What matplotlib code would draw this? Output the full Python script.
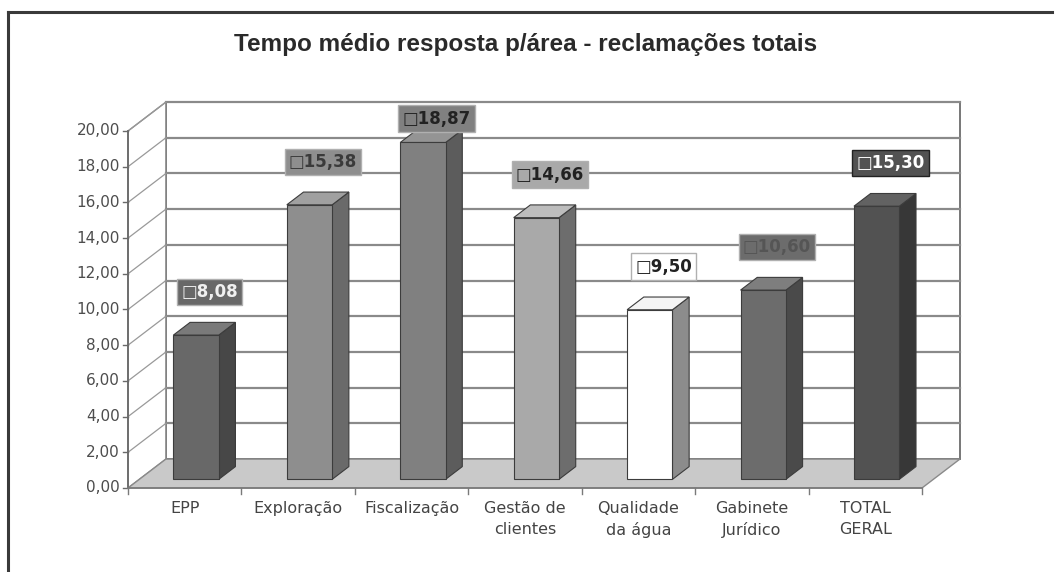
import matplotlib
matplotlib.use("Agg")
import matplotlib.pyplot as plt
from matplotlib.patches import Polygon, Rectangle
from matplotlib.lines import Line2D

# Average response time per area (days), all complaints
areas = ["EPP", "Exploração", "Fiscalização", "Gestão de\nclientes",
         "Qualidade\nda água", "Gabinete\nJurídico", "TOTAL\nGERAL"]
tempos = [8.08, 15.38, 18.87, 14.66, 9.50, 10.60, 15.30]

# shades of grey per bar: front face, side face, top face
face_cols = ["#686868", "#8e8e8e", "#808080", "#a9a9a9", "#ffffff", "#6c6c6c", "#525252"]
side_cols = ["#474747", "#6a6a6a", "#5c5c5c", "#6d6d6d", "#8c8c8c", "#4a4a4a", "#373737"]
top_cols = ["#7a7a7a", "#a0a0a0", "#949494", "#bdbdbd", "#f4f4f4", "#7e7e7e", "#626262"]
text_cols = ["#f0f0f0", "#3a3a3a", "#222222", "#222222", "#222222", "#555555", "#ffffff"]

y_ticks = list(range(0, 21, 2))

n = len(areas)
DX, DY = 0.334, 1.62      # depth of the 3D box (category units, value units)
D0, D1 = 0.30, 0.74       # bar depth span as fraction of the box
W = 0.40                  # bar width

fig = plt.figure(figsize=(10.58, 5.72), dpi=100)
fig.patch.set_facecolor("white")

# outer frame of the chart object (top and left edges)
fig.add_artist(Line2D([8 / 1058, 1052 / 1058], [1 - 12 / 572, 1 - 12 / 572],
                      color="#3a3a3a", lw=2.2, transform=fig.transFigure))
fig.add_artist(Line2D([8 / 1058, 8 / 1058], [1 - 12 / 572, 0.0],
                      color="#3a3a3a", lw=2.2, transform=fig.transFigure))

fig.text(0.497, 1 - 45 / 572, "Tempo médio resposta p/área - reclamações totais",
         ha="center", va="center", fontsize=17.5, fontweight="bold",
         color="#2a2a2a", family="Liberation Sans")

ax = fig.add_axes([128 / 1058, (572 - 488) / 572, (922 - 128) / 1058, (488 - 131) / 572])
ax.set_xlim(0, n)
ax.set_ylim(0, 20)
ax.axis("off")

grid_col = "#8a8a8a"

# back wall and left wall
ax.add_patch(Rectangle((DX, DY), n, 20, facecolor="white", edgecolor="#777777",
                       lw=1.4, clip_on=False, zorder=1))
ax.add_patch(Polygon([(0, 0), (DX, DY), (DX, 20 + DY), (0, 20)], closed=True,
                     facecolor="white", edgecolor="#888888", lw=1.0,
                     clip_on=False, zorder=1))
for t in y_ticks[1:]:
    ax.plot([DX, n + DX], [t + DY, t + DY], color=grid_col, lw=1.6,
            clip_on=False, zorder=2)
    ax.plot([0, DX], [t, t + DY], color="#999999", lw=0.9, clip_on=False, zorder=2)

# floor
ax.add_patch(Polygon([(0, 0), (n, 0), (n + DX, DY), (DX, DY)], closed=True,
                     facecolor="#c9c9c9", edgecolor="#8a8a8a", lw=1.0,
                     clip_on=False, zorder=3))

# front value axis with ticks
ax.plot([0, 0], [0, 20], color="#6a6a6a", lw=1.3, clip_on=False, zorder=4)
for t in y_ticks:
    ax.plot([-0.04, 0], [t, t], color="#6a6a6a", lw=1.0, clip_on=False, zorder=4)
    ax.text(-0.07, t, f"{t:.2f}".replace(".", ","), ha="right", va="center",
            fontsize=11, color="#4d4d4d", family="DejaVu Sans")

# front category axis with ticks between groups
ax.plot([0, n], [0, 0], color="#7a7a7a", lw=1.2, clip_on=False, zorder=4)
for k in range(n + 1):
    ax.plot([k, k], [0, -0.35], color="#7a7a7a", lw=1.0, clip_on=False, zorder=4)

for i, (lab, v) in enumerate(zip(areas, tempos)):
    c = i + 0.5
    x0 = c - W / 2 + D0 * DX
    x1 = c + W / 2 + D0 * DX
    y0 = D0 * DY
    ex = (D1 - D0) * DX
    ey = (D1 - D0) * DY
    front = Rectangle((x0, y0), W, v, facecolor=face_cols[i], edgecolor="#3c3c3c",
                      lw=0.8, clip_on=False, zorder=6)
    side = Polygon([(x1, y0), (x1 + ex, y0 + ey), (x1 + ex, v + y0 + ey), (x1, v + y0)],
                   closed=True, facecolor=side_cols[i], edgecolor="#3c3c3c", lw=0.8,
                   clip_on=False, zorder=5)
    top = Polygon([(x0, v + y0), (x1, v + y0), (x1 + ex, v + y0 + ey), (x0 + ex, v + y0 + ey)],
                  closed=True, facecolor=top_cols[i], edgecolor="#3c3c3c", lw=0.8,
                  clip_on=False, zorder=5)
    ax.add_patch(side)
    ax.add_patch(top)
    ax.add_patch(front)

    # data label with legend key
    ly = min(v + 2.9, 20.7)
    ax.text(c + 0.22, ly, "\u25a1" + f"{v:.2f}".replace(".", ","),
            ha="center", va="center", fontsize=12, fontweight="bold",
            color=text_cols[i], family="DejaVu Sans", zorder=8,
            bbox=dict(boxstyle="square,pad=0.25", facecolor=face_cols[i],
                      edgecolor="#b0b0b0" if i != 6 else "#222222", lw=1.0))

    # category label
    ax.text(c, -0.75, lab, ha="center", va="top", fontsize=11.5, color="#444444",
            family="DejaVu Sans", linespacing=1.45)

fig.savefig("out.png", dpi=100, facecolor="white")
